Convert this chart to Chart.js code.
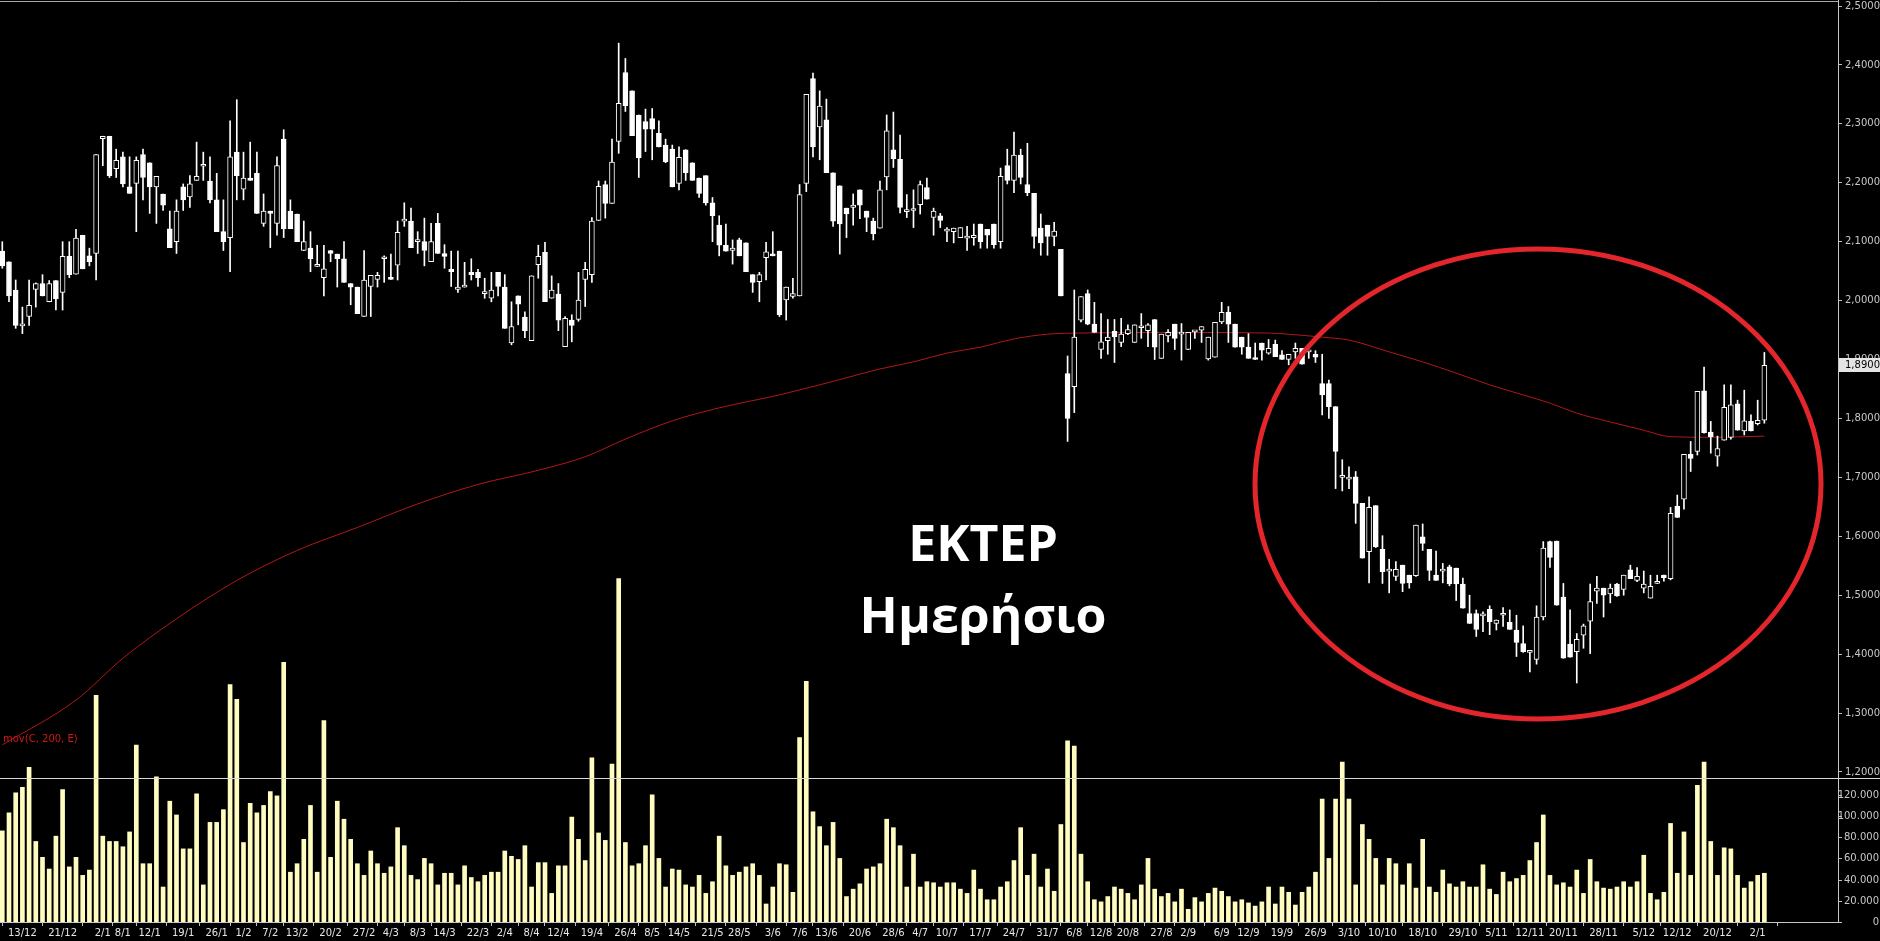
<!DOCTYPE html>
<html>
<head>
<meta charset="utf-8">
<title>ΕΚΤΕΡ Ημερήσιο</title>
<script src="https://cdn.jsdelivr.net/npm/chart.js@4.4.1/dist/chart.umd.min.js"></script>
<style>
  html, body { margin: 0; padding: 0; background: #000; }
  canvas { display: block; }
</style>
</head>
<body>
<canvas id="chart" width="1880" height="941"></canvas>
<script>
// daily candles (bar index 0 = first visible session)
const opens = [
  2.084, 2.066, 2.018, 1.957, 1.973, 2.019, 2.029, 1.998, 2.034, 2.014,
  2.075, 2.045, 2.111, 2.076, 2.080, 2.275, 2.279, 2.224, 2.244, 2.193,
  2.199, 2.248, 2.234, 2.193, 2.181, 2.122, 2.100, 2.193, 2.176, 2.204,
  2.228, 2.203, 2.171, 2.117, 2.107, 2.252, 2.189, 2.208, 2.216, 2.131,
  2.152, 2.131, 2.274, 2.152, 2.147, 2.085, 2.089, 2.058, 2.039, 2.085,
  2.079, 2.071, 2.029, 2.023, 1.973, 2.024, 2.036, 2.071, 2.038, 2.060,
  2.135, 2.135, 2.100, 2.100, 2.066, 2.131, 2.080, 2.053, 2.019, 2.023,
  2.048, 2.048, 2.012, 2.004, 2.048, 2.023, 1.928, 2.008, 1.972, 1.932,
  2.061, 2.082, 2.004, 2.011, 1.922, 1.967, 1.968, 2.036, 2.044, 2.136,
  2.197, 2.165, 2.270, 2.387, 2.356, 2.315, 2.304, 2.309, 2.284, 2.264,
  2.257, 2.199, 2.256, 2.234, 2.208, 2.212, 2.166, 2.128, 2.094, 2.085,
  2.103, 2.098, 2.044, 2.032, 2.073, 2.079, 2.084, 2.001, 2.007, 2.008,
  2.199, 2.377, 2.295, 2.307, 2.217, 2.195, 2.157, 2.158, 2.188, 2.152,
  2.135, 2.123, 2.210, 2.256, 2.240, 2.151, 2.153, 2.163, 2.192, 2.141,
  2.144, 2.118, 2.117, 2.107, 2.106, 2.107, 2.130, 2.121, 2.130, 2.100,
  2.229, 2.204, 2.247, 2.197, 2.182, 2.123, 2.128, 2.109, 2.087, 1.876,
  1.854, 1.967, 2.012, 1.960, 1.917, 1.932, 1.948, 1.929, 1.944, 1.929,
  1.954, 1.949, 1.968, 1.902, 1.940, 1.960, 1.943, 1.917, 1.947, 1.950,
  1.901, 1.904, 1.964, 1.980, 1.960, 1.938, 1.921, 1.902, 1.928, 1.911,
  1.926, 1.908, 1.900, 1.913, 1.919, 1.913, 1.909, 1.859, 1.859, 1.820,
  1.700, 1.697, 1.701, 1.656, 1.574, 1.652, 1.578, 1.541, 1.532, 1.551,
  1.534, 1.533, 1.599, 1.578, 1.534, 1.541, 1.548, 1.546, 1.519, 1.469,
  1.469, 1.465, 1.476, 1.452, 1.466, 1.454, 1.441, 1.418, 1.403, 1.391,
  1.463, 1.591, 1.592, 1.497, 1.417, 1.404, 1.432, 1.456, 1.507, 1.512,
  1.502, 1.519, 1.510, 1.543, 1.525, 1.512, 1.495, 1.520, 1.534, 1.528,
  1.651, 1.663, 1.739, 1.744, 1.847, 1.777, 1.736, 1.763, 1.768, 1.825,
  1.779, 1.795, 1.791, 1.797
];
const highs = [
  2.100, 2.066, 2.035, 1.989, 2.035, 2.030, 2.044, 2.034, 2.034, 2.100,
  2.100, 2.121, 2.111, 2.089, 2.248, 2.279, 2.279, 2.257, 2.252, 2.244,
  2.244, 2.257, 2.234, 2.211, 2.181, 2.152, 2.171, 2.198, 2.212, 2.269,
  2.252, 2.244, 2.216, 2.171, 2.305, 2.341, 2.252, 2.269, 2.252, 2.181,
  2.152, 2.244, 2.290, 2.171, 2.147, 2.135, 2.117, 2.094, 2.094, 2.085,
  2.079, 2.100, 2.029, 2.023, 2.085, 2.043, 2.048, 2.076, 2.079, 2.135,
  2.166, 2.157, 2.117, 2.140, 2.131, 2.148, 2.095, 2.084, 2.084, 2.065,
  2.071, 2.053, 2.038, 2.048, 2.048, 2.044, 1.998, 2.008, 1.981, 2.042,
  2.094, 2.099, 2.042, 2.029, 1.973, 1.976, 2.048, 2.065, 2.141, 2.203,
  2.203, 2.274, 2.437, 2.411, 2.356, 2.315, 2.325, 2.326, 2.305, 2.274,
  2.264, 2.261, 2.256, 2.234, 2.208, 2.212, 2.175, 2.144, 2.130, 2.103,
  2.106, 2.098, 2.044, 2.048, 2.099, 2.117, 2.084, 2.023, 2.038, 2.197,
  2.350, 2.386, 2.356, 2.342, 2.217, 2.195, 2.157, 2.181, 2.188, 2.152,
  2.140, 2.203, 2.315, 2.320, 2.281, 2.180, 2.188, 2.203, 2.208, 2.157,
  2.148, 2.124, 2.123, 2.124, 2.126, 2.130, 2.130, 2.121, 2.130, 2.225,
  2.257, 2.286, 2.257, 2.267, 2.182, 2.147, 2.128, 2.133, 2.087, 1.906,
  2.018, 2.007, 2.018, 1.997, 1.978, 1.968, 1.968, 1.970, 1.959, 1.959,
  1.978, 1.961, 1.968, 1.943, 1.951, 1.960, 1.961, 1.946, 1.947, 1.956,
  1.938, 1.963, 1.997, 1.990, 1.960, 1.938, 1.944, 1.928, 1.928, 1.934,
  1.933, 1.915, 1.909, 1.928, 1.919, 1.913, 1.915, 1.909, 1.865, 1.820,
  1.730, 1.718, 1.710, 1.656, 1.667, 1.652, 1.601, 1.561, 1.557, 1.551,
  1.534, 1.619, 1.621, 1.578, 1.575, 1.554, 1.551, 1.546, 1.529, 1.500,
  1.475, 1.472, 1.482, 1.458, 1.479, 1.475, 1.466, 1.448, 1.405, 1.482,
  1.591, 1.592, 1.592, 1.520, 1.475, 1.435, 1.451, 1.519, 1.532, 1.512,
  1.519, 1.520, 1.534, 1.551, 1.547, 1.541, 1.534, 1.534, 1.534, 1.649,
  1.670, 1.739, 1.761, 1.846, 1.887, 1.795, 1.770, 1.857, 1.857, 1.831,
  1.848, 1.806, 1.831, 1.912
];
const lows = [
  2.055, 1.998, 1.953, 1.944, 1.958, 1.989, 2.008, 1.998, 1.984, 1.984,
  2.039, 2.045, 2.054, 2.059, 2.035, 2.229, 2.209, 2.209, 2.193, 2.182,
  2.117, 2.171, 2.148, 2.131, 2.153, 2.090, 2.080, 2.153, 2.158, 2.204,
  2.204, 2.166, 2.117, 2.085, 2.049, 2.171, 2.171, 2.204, 2.148, 2.126,
  2.090, 2.111, 2.107, 2.122, 2.100, 2.085, 2.049, 2.058, 2.008, 2.066,
  2.023, 2.031, 1.993, 1.978, 1.973, 1.973, 2.023, 2.031, 2.036, 2.035,
  2.126, 2.090, 2.080, 2.059, 2.066, 2.080, 2.055, 2.024, 2.014, 2.023,
  2.035, 2.024, 2.004, 1.998, 2.008, 1.953, 1.925, 1.959, 1.937, 1.932,
  2.038, 1.998, 2.004, 1.949, 1.922, 1.930, 1.965, 1.990, 2.031, 2.136,
  2.140, 2.165, 2.250, 2.321, 2.280, 2.209, 2.253, 2.239, 2.261, 2.234,
  2.193, 2.188, 2.204, 2.204, 2.175, 2.162, 2.100, 2.076, 2.084, 2.062,
  2.076, 2.049, 2.014, 1.998, 2.035, 2.076, 1.973, 1.967, 2.004, 2.008,
  2.185, 2.244, 2.239, 2.217, 2.126, 2.079, 2.107, 2.128, 2.139, 2.117,
  2.103, 2.123, 2.188, 2.226, 2.149, 2.141, 2.124, 2.147, 2.172, 2.111,
  2.124, 2.100, 2.098, 2.107, 2.085, 2.094, 2.089, 2.089, 2.089, 2.089,
  2.198, 2.183, 2.198, 2.178, 2.089, 2.077, 2.077, 2.093, 2.008, 1.761,
  1.810, 1.964, 1.959, 1.946, 1.902, 1.909, 1.895, 1.922, 1.942, 1.929,
  1.936, 1.922, 1.900, 1.902, 1.930, 1.917, 1.899, 1.917, 1.936, 1.929,
  1.899, 1.904, 1.961, 1.929, 1.921, 1.909, 1.902, 1.900, 1.899, 1.909,
  1.905, 1.900, 1.891, 1.902, 1.892, 1.902, 1.895, 1.806, 1.800, 1.681,
  1.677, 1.681, 1.622, 1.563, 1.521, 1.581, 1.520, 1.504, 1.525, 1.506,
  1.512, 1.532, 1.576, 1.525, 1.525, 1.521, 1.516, 1.491, 1.478, 1.452,
  1.430, 1.438, 1.433, 1.441, 1.447, 1.442, 1.396, 1.403, 1.370, 1.383,
  1.458, 1.547, 1.483, 1.393, 1.395, 1.351, 1.410, 1.401, 1.486, 1.463,
  1.487, 1.498, 1.500, 1.528, 1.523, 1.504, 1.495, 1.520, 1.524, 1.526,
  1.632, 1.646, 1.710, 1.738, 1.775, 1.741, 1.719, 1.763, 1.765, 1.780,
  1.772, 1.779, 1.789, 1.792
];
const closes = [
  2.059, 2.008, 1.958, 1.958, 1.992, 2.029, 2.008, 2.029, 2.003, 2.075,
  2.044, 2.106, 2.054, 2.066, 2.248, 2.279, 2.212, 2.238, 2.198, 2.182,
  2.238, 2.209, 2.193, 2.211, 2.162, 2.090, 2.152, 2.171, 2.198, 2.211,
  2.228, 2.171, 2.117, 2.100, 2.244, 2.212, 2.208, 2.204, 2.148, 2.152,
  2.148, 2.229, 2.122, 2.122, 2.100, 2.100, 2.071, 2.058, 2.054, 2.080,
  2.071, 2.031, 2.023, 1.978, 2.035, 2.043, 2.043, 2.071, 2.036, 2.116,
  2.135, 2.090, 2.100, 2.085, 2.100, 2.080, 2.075, 2.049, 2.023, 2.023,
  2.044, 2.039, 2.012, 2.018, 2.024, 1.953, 1.956, 1.994, 1.949, 2.042,
  2.075, 1.998, 2.018, 1.967, 1.970, 1.958, 2.001, 2.053, 2.135, 2.194,
  2.165, 2.235, 2.335, 2.331, 2.280, 2.242, 2.291, 2.291, 2.261, 2.236,
  2.193, 2.243, 2.217, 2.204, 2.182, 2.166, 2.144, 2.094, 2.084, 2.089,
  2.076, 2.049, 2.031, 2.044, 2.083, 2.076, 1.976, 2.023, 2.012, 2.180,
  2.350, 2.261, 2.330, 2.217, 2.135, 2.130, 2.147, 2.162, 2.162, 2.141,
  2.113, 2.188, 2.288, 2.241, 2.158, 2.151, 2.153, 2.197, 2.172, 2.152,
  2.136, 2.118, 2.123, 2.124, 2.106, 2.111, 2.100, 2.111, 2.095, 2.211,
  2.204, 2.247, 2.209, 2.183, 2.109, 2.098, 2.109, 2.118, 2.008, 1.800,
  1.938, 2.007, 1.960, 1.946, 1.930, 1.938, 1.939, 1.943, 1.951, 1.959,
  1.954, 1.959, 1.921, 1.943, 1.946, 1.936, 1.943, 1.946, 1.947, 1.956,
  1.938, 1.963, 1.980, 1.960, 1.921, 1.921, 1.902, 1.900, 1.916, 1.919,
  1.905, 1.900, 1.909, 1.919, 1.892, 1.913, 1.904, 1.840, 1.820, 1.744,
  1.700, 1.697, 1.656, 1.563, 1.649, 1.582, 1.540, 1.541, 1.544, 1.520,
  1.521, 1.619, 1.588, 1.542, 1.525, 1.544, 1.519, 1.519, 1.478, 1.452,
  1.442, 1.465, 1.455, 1.458, 1.466, 1.442, 1.420, 1.404, 1.403, 1.463,
  1.580, 1.564, 1.483, 1.393, 1.395, 1.425, 1.448, 1.489, 1.512, 1.500,
  1.512, 1.499, 1.534, 1.528, 1.532, 1.519, 1.515, 1.520, 1.530, 1.639,
  1.632, 1.739, 1.732, 1.846, 1.776, 1.769, 1.749, 1.819, 1.823, 1.780,
  1.796, 1.779, 1.797, 1.890
];
// volume in thousands of shares
const volumes = [
  86, 103, 122, 127, 146, 76, 61, 50, 81, 125,
  52, 61, 44, 49, 214, 81, 76, 76, 71, 85,
  167, 55, 55, 137, 33, 114, 101, 69, 69, 121,
  35, 94, 94, 106, 224, 210, 75, 112, 103, 110,
  123, 119, 245, 47, 55, 78, 110, 47, 190, 61,
  114, 97, 78, 55, 44, 67, 55, 46, 52, 89,
  72, 44, 40, 60, 55, 35, 46, 46, 35, 53,
  42, 38, 44, 47, 47, 67, 62, 59, 72, 33,
  56, 56, 27, 53, 53, 99, 78, 58, 155, 84,
  77, 149, 324, 75, 53, 55, 72, 120, 60, 33,
  50, 49, 35, 33, 44, 27, 38, 81, 53, 44,
  47, 52, 55, 44, 17, 33, 55, 54, 28, 174,
  227, 104, 90, 72, 94, 60, 24, 31, 36, 50,
  52, 55, 97, 89, 72, 33, 64, 33, 38, 37,
  33, 37, 37, 31, 27, 49, 31, 21, 21, 33,
  38, 58, 89, 44, 64, 33, 50, 29, 92, 171,
  166, 64, 38, 21, 19, 24, 33, 31, 27, 21,
  35, 60, 31, 24, 27, 19, 31, 12, 23, 19,
  27, 32, 29, 24, 19, 21, 18, 15, 19, 33,
  17, 33, 28, 16, 28, 33, 47, 116, 60, 116,
  151, 116, 35, 92, 78, 60, 35, 60, 55, 35,
  55, 32, 78, 33, 28, 49, 36, 33, 38, 33,
  33, 54, 31, 26, 47, 38, 41, 44, 58, 75,
  101, 44, 35, 37, 33, 49, 27, 59, 38, 32,
  31, 33, 38, 33, 38, 63, 27, 21, 28, 93,
  46, 85, 44, 129, 151, 76, 44, 70, 69, 44,
  32, 38, 44, 46
];
// mov(C, 200, E)
const maIdx = [0, 11, 18, 26, 35, 44, 53, 62, 71, 80, 87, 93, 100, 107, 116, 125, 131, 136, 141, 146,
  151, 156, 161, 175, 189, 192, 197, 201, 207, 212, 217, 222, 227, 231, 235, 240, 245, 249, 255, 263];
const maVals = [1.246, 1.322, 1.393, 1.460, 1.525, 1.576, 1.615, 1.655, 1.688, 1.712, 1.735, 1.765, 1.796, 1.818, 1.840, 1.866, 1.884, 1.896, 1.911, 1.921,
  1.935, 1.943, 1.945, 1.946, 1.945, 1.943, 1.938, 1.933, 1.913, 1.896, 1.877, 1.857, 1.840, 1.826, 1.809, 1.794, 1.780, 1.769, 1.768, 1.770];

const dateLabels = ['13/12', '21/12', '2/1', '8/1', '12/1', '19/1', '26/1', '1/2', '7/2', '13/2', '20/2', '27/2', '4/3', '8/3',
  '14/3', '22/3', '2/4', '8/4', '12/4', '19/4', '26/4', '8/5', '14/5', '21/5', '28/5', '3/6', '7/6', '13/6', '20/6', '28/6',
  '4/7', '10/7', '17/7', '24/7', '31/7', '6/8', '12/8', '20/8', '27/8', '2/9', '6/9', '12/9', '19/9', '26/9', '3/10', '10/10',
  '18/10', '29/10', '5/11', '12/11', '20/11', '28/11', '5/12', '12/12', '20/12', '2/1'];
const dateIdx = [3, 9, 15, 18, 22, 27, 32, 36, 40, 44, 49, 54, 58, 62, 66, 71, 75, 79, 83, 88, 93, 97, 101, 106, 110, 115,
  119, 123, 128, 133, 137, 141, 146, 151, 156, 160, 164, 168, 173, 177, 182, 186, 191, 196, 201, 206, 212, 218, 223, 228,
  233, 239, 245, 250, 256, 262];
const priceTicks = [1.2, 1.3, 1.4, 1.5, 1.6, 1.7, 1.8, 1.9, 2.0, 2.1, 2.2, 2.3, 2.4, 2.5];
const volTicks = [0, 20000, 40000, 60000, 80000, 100000, 120000];

const volData = volumes.map((v, i) => ({ x: i, y: v * 1000 }));
const wickData = highs.map((h, i) => ({ x: i, y: [lows[i], h] }));
const bodyData = opens.map((o, i) => ({ x: i, y: [o, closes[i]] }));
const bodyColors = opens.map((o, i) => closes[i] >= o ? '#000000' : '#ffffff');
const maData = maIdx.map((x, k) => ({ x: x, y: maVals[k] }));

Chart.defaults.font.family = 'DejaVu Sans';

const fmtPrice = v => v.toFixed(4).replace('.', ',');
const fmtVol = v => v.toLocaleString('de-DE');

const overlay = {
  id: 'overlay',
  afterDraw(chart) {
    const ctx = chart.ctx;
    const yv = chart.scales.yv;
    const y = chart.scales.y;
    const right = chart.chartArea.right;
    ctx.save();

    // frame lines
    ctx.strokeStyle = '#a8a8a8';
    ctx.lineWidth = 1;
    ctx.beginPath();
    ctx.moveTo(0, 1.5);
    ctx.lineTo(right, 1.5);
    ctx.stroke();
    ctx.strokeStyle = '#d8d8d8';
    ctx.beginPath();
    ctx.moveTo(0, 778.5);
    ctx.lineTo(1880, 778.5);
    ctx.stroke();

    // volume axis labels
    ctx.font = '10px "DejaVu Sans"';
    ctx.fillStyle = '#c8c8c8';
    ctx.strokeStyle = '#c0c0c0';
    ctx.textAlign = 'right';
    ctx.textBaseline = 'middle';
    volTicks.forEach(v => {
      const py = Math.round(yv.getPixelForValue(v)) + 0.5;
      ctx.beginPath();
      ctx.moveTo(right, py);
      ctx.lineTo(right + 4, py);
      ctx.stroke();
      ctx.fillText(fmtVol(v), 1879, py);
    });

    // last price marker
    const last = closes[closes.length - 1];
    const ly = Math.round(y.getPixelForValue(last));
    ctx.fillStyle = '#e4e4e4';
    ctx.fillRect(right + 1, ly - 7, 1880 - right - 1, 14);
    ctx.fillStyle = '#000';
    ctx.textAlign = 'left';
    ctx.fillText(fmtPrice(last), right + 7, ly + 0.5);

    // indicator name
    ctx.font = '10px "DejaVu Sans"';
    ctx.fillStyle = '#d01818';
    ctx.fillText('mov(C, 200, E)', 3, y.getPixelForValue(maVals[0]) - 5);

    // highlight ellipse
    ctx.strokeStyle = '#e3262b';
    ctx.lineWidth = 5;
    ctx.beginPath();
    ctx.ellipse(1538, 484, 283, 235, 0, 0, Math.PI * 2);
    ctx.stroke();

    // title
    ctx.fillStyle = '#ffffff';
    ctx.textAlign = 'center';
    ctx.textBaseline = 'alphabetic';
    ctx.font = 'bold 50px "Open Sans"';
    ctx.fillText('ΕΚΤΕΡ', 983, 561);
    ctx.fillText('Ημερήσιο', 983, 633);
    ctx.restore();
  }
};

const chart = new Chart(document.getElementById('chart').getContext('2d'), {
  type: 'bar',
  data: {
    datasets: [
      {
        label: 'Όγκος',
        data: volData,
        yAxisID: 'yv',
        backgroundColor: '#fffcc0',
        barThickness: 4,
        grouped: false,
        order: 4
      },
      {
        type: 'line',
        label: 'mov(C, 200, E)',
        data: maData,
        yAxisID: 'y',
        borderColor: '#b01818',
        borderWidth: 1,
        pointRadius: 0,
        cubicInterpolationMode: 'monotone',
        fill: false,
        order: 3
      },
      {
        label: 'wick',
        data: wickData,
        yAxisID: 'y',
        backgroundColor: '#ffffff',
        barThickness: 1,
        grouped: false,
        order: 2
      },
      {
        label: 'body',
        data: bodyData,
        yAxisID: 'y',
        backgroundColor: bodyColors,
        borderColor: '#ffffff',
        borderWidth: 1,
        borderSkipped: false,
        barThickness: 5,
        minBarLength: 2,
        grouped: false,
        order: 1
      }
    ]
  },
  options: {
    responsive: false,
    animation: false,
    devicePixelRatio: 1,
    events: [],
    layout: { padding: 0 },
    plugins: {
      legend: { display: false },
      tooltip: { enabled: false }
    },
    scales: {
      x: {
        type: 'linear',
        min: -0.343,
        max: 273.99,
        offset: false,
        afterBuildTicks: s => { s.ticks = dateIdx.map(v => ({ value: v })); },
        afterFit: s => { s.height = 19; s.paddingLeft = 0; s.paddingRight = 0; },
        ticks: {
          autoSkip: false,
          maxRotation: 0,
          padding: 1,
          color: '#e6e6e6',
          font: { size: 10 },
          callback: (v, i) => dateLabels[i]
        },
        grid: { drawOnChartArea: false, drawTicks: true, tickLength: 4, color: '#c0c0c0' },
        border: { color: '#c8c8c8' }
      },
      y: {
        type: 'linear',
        position: 'right',
        min: 0.9454,
        max: 2.5102,
        afterBuildTicks: s => { s.ticks = priceTicks.map(v => ({ value: v })); },
        afterFit: s => { s.width = 42; s.paddingTop = 0; s.paddingBottom = 0; },
        ticks: {
          padding: 3,
          color: '#c8c8c8',
          font: { size: 10 },
          callback: (v, i) => fmtPrice(priceTicks[i])
        },
        grid: { drawOnChartArea: false, drawTicks: true, tickLength: 4, color: '#c0c0c0' },
        border: { color: '#c8c8c8' }
      },
      yv: {
        type: 'linear',
        display: false,
        min: 0,
        max: 870000
      }
    }
  },
  plugins: [overlay]
});
</script>
</body>
</html>
